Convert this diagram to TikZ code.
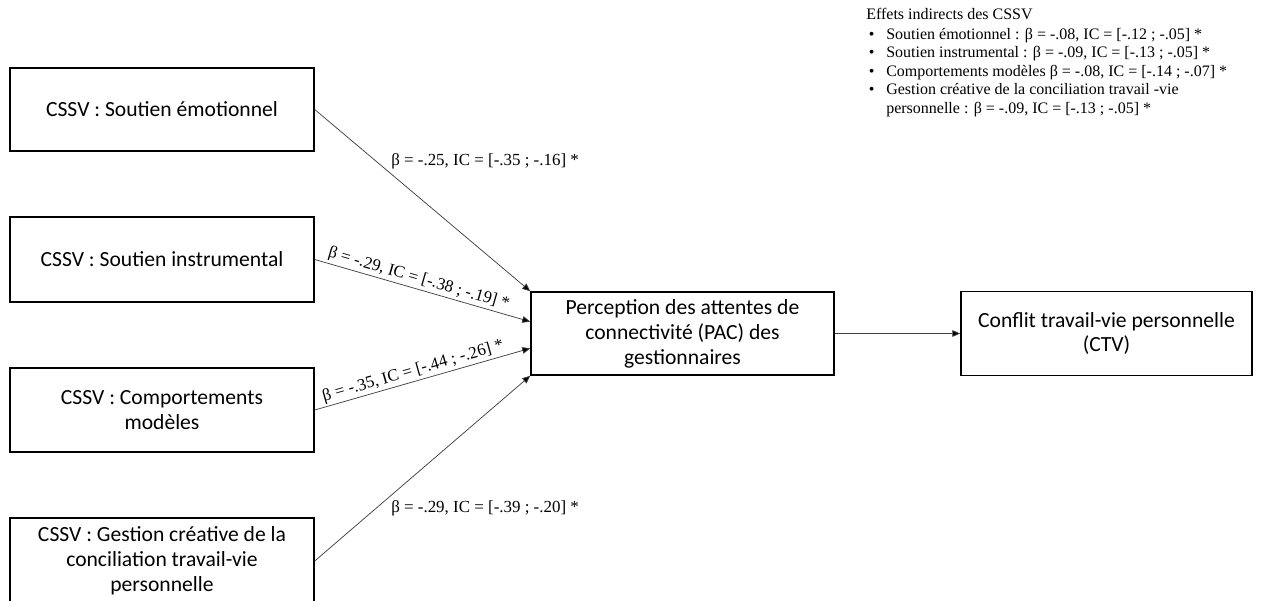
\documentclass[tikz,border=0pt]{standalone}
\usepackage{fontspec}
\setmainfont{Liberation Serif}
\newfontfamily\boxfont{Carlito}
\usetikzlibrary{arrows.meta,calc}

\tikzset{
  varbox/.style={draw=black, line width=1.1pt, fill=white, align=center,
    font=\boxfont\fontsize{16.2}{18.7}\selectfont, inner sep=2pt},
  path/.style={draw=black!75, line width=0.55pt,
    -{Triangle[length=6pt,width=5pt,fill=black]}},
  coef/.style={font=\fontsize{12.7}{14}\selectfont, inner sep=1.5pt},
}

\newcommand{\bul}{\hspace*{2pt}\makebox[13pt][l]{•}}

\begin{document}
\begin{tikzpicture}[x=0.75pt, y=-0.75pt]
\useasboundingbox (0,0) rectangle (1263,600);

% predictors (CSSV dimensions)
\node[varbox, minimum width=304*0.75pt, minimum height=83*0.75pt] (emo) at (162,109.5) {CSSV : Soutien émotionnel};
\node[varbox, minimum width=304*0.75pt, minimum height=85*0.75pt] (ins) at (162,259.5) {CSSV : Soutien instrumental};
\node[varbox, minimum width=304*0.75pt, minimum height=84*0.75pt] (mod) at (162,410) {CSSV : Comportements\\modèles};
\node[varbox, minimum width=304*0.75pt, minimum height=86*0.75pt] (ges) at (162,561) {CSSV : Gestion créative de la\\conciliation travail-vie\\personnelle};

% mediator and outcome
\node[varbox, minimum width=303*0.75pt, minimum height=83*0.75pt] (pac) at (682.5,333.5) {Perception des attentes de\\connectivité (PAC) des\\gestionnaires};
\node[varbox, minimum width=291*0.75pt, minimum height=84*0.75pt] (ctv) at (1106.5,333.5) {Conflit travail-vie personnelle\\(CTV)};

% paths to the mediator
\draw[path] (emo.east) -- (pac.north west);
\draw[path] (ins.east) -- ($(pac.north west)!0.36!(pac.south west)$)
  node[coef, pos=0.47, sloped, above] {β = -.29, IC = [-.38 ; -.19] *};
\draw[path] (mod.east) -- ($(pac.north west)!0.675!(pac.south west)$)
  node[coef, pos=0.47, sloped, above] {β = -.35, IC = [-.44 ; -.26] *};
\draw[path] (ges.east) -- (pac.south west);
\draw[path] (pac.east) -- (ctv.west);

% coefficients of the outer paths
\node[coef, anchor=west] (c1) at (389,161) {β = -.25, IC = [-.35 ; -.16] *};
\node[coef, anchor=west] (c4) at (389,508) {β = -.29, IC = [-.39 ; -.20] *};

% indirect effects
\node[anchor=north west, align=left, inner sep=0pt,
  font=\fontsize{12}{13.8}\selectfont] (ind) at (866,8) {%
Effets indirects des CSSV\\[1.2pt]
\bul Soutien émotionnel : β = -.08, IC = [-.12 ; -.05] *\\
\bul Soutien instrumental : β = -.09, IC = [-.13 ; -.05] *\\
\bul Comportements modèles β = -.08, IC = [-.14 ; -.07] *\\
\bul Gestion créative de la conciliation travail -vie\\
\hspace*{15pt}personnelle : β = -.09, IC = [-.13 ; -.05] *};
\end{tikzpicture}
\end{document}
